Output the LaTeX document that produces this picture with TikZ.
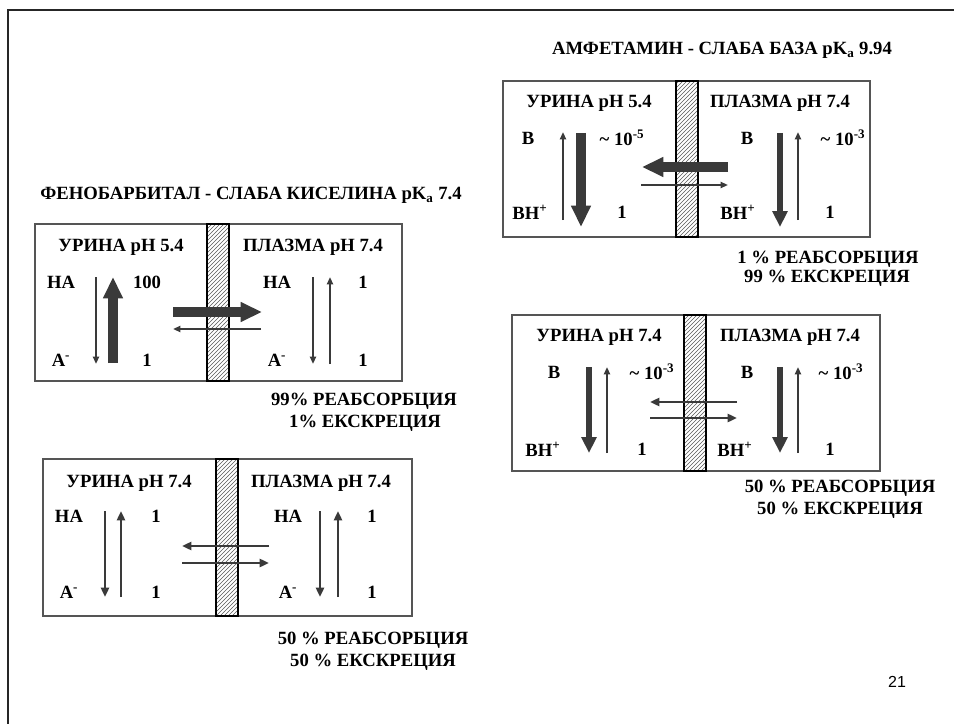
\documentclass[tikz,border=0pt]{standalone}
\usepackage{fontspec}
\setmainfont{Liberation Serif}
\newfontfamily\pagefont{Liberation Sans}
\usepackage{tikz}
\usetikzlibrary{arrows.meta,patterns}
\definecolor{ink}{HTML}{3A3A3A}
\definecolor{rim}{HTML}{555555}

\begin{document}
\begin{tikzpicture}[
x=0.75pt, y=-0.75pt,
lbl/.style={font=\fontsize{14}{16}\selectfont\bfseries, inner sep=0pt},
panel/.style={draw=rim, line width=1.1pt},
wall/.style={draw=black, line width=0.9pt, pattern=north east lines, pattern color=black!65},
arrow/.style={-{Triangle[width=4.5pt,length=5.5pt]}, line width=1.4pt, draw=ink},
midarrow/.style={-{Triangle[width=6pt,length=7pt]}, line width=2.2pt, draw=ink},
medarrow/.style={-{Triangle[width=11pt,length=12pt]}, line width=5pt, draw=ink},
bigarrow/.style={-{Triangle[width=14pt,length=16pt]}, line width=7.5pt, draw=ink}
]
\useasboundingbox (0,0) rectangle (954,724);
% slide frame
\draw[line width=1.8pt, black!85] (8,724) -- (8,10) -- (954,10);

% phenobarbital, urine pH 5.4
\draw[panel] (35,224) rectangle (402,381);
\draw[wall] (207,224) rectangle (229,381);
\node[lbl] (t1) at (251,195) {ФЕНОБАРБИТАЛ - СЛАБА КИСЕЛИНА pK\textsubscript{a} 7.4};
\node[lbl] (u1) at (121,247) {УРИНА pH 5.4};
\node[lbl] (p1) at (313,247) {ПЛАЗМА pH 7.4};
\node[lbl] (ha1u) at (61,282) {HA};
\node[lbl] (v1u) at (147,282) {100};
\node[lbl] (a1u) at (61,360) {A\textsuperscript{-}};
\node[lbl] (w1u) at (147,360) {1};
\node[lbl] (ha1p) at (277,282) {HA};
\node[lbl] (v1p) at (363,282) {1};
\node[lbl] (a1p) at (277,360) {A\textsuperscript{-}};
\node[lbl] (w1p) at (363,360) {1};
\node[lbl] (r1) at (364,401) {99\% РЕАБСОРБЦИЯ};
\node[lbl] (e1) at (365,423) {1\% ЕКСКРЕЦИЯ};
\coordinate (k1a) at (96,277); \coordinate (k1b) at (96,364);
\coordinate (k2a) at (113,363); \coordinate (k2b) at (113,277);
\coordinate (k3a) at (313,277); \coordinate (k3b) at (313,364);
\coordinate (k4a) at (330,364); \coordinate (k4b) at (330,277);
\coordinate (k5a) at (173,312); \coordinate (k5b) at (262,312);
\coordinate (k6a) at (261,329); \coordinate (k6b) at (173,329);
\draw[arrow] (k1a) -- (k1b);
\draw[bigarrow] (k2a) -- (k2b);
\draw[arrow] (k3a) -- (k3b);
\draw[arrow] (k4a) -- (k4b);
\draw[bigarrow] (k5a) -- (k5b);
\draw[arrow] (k6a) -- (k6b);

% phenobarbital, urine pH 7.4
\draw[panel] (43,459) rectangle (412,616);
\draw[wall] (216,459) rectangle (238,616);
\node[lbl] (u2) at (129,483) {УРИНА pH 7.4};
\node[lbl] (p2) at (321,483) {ПЛАЗМА pH 7.4};
\node[lbl] (ha2u) at (69,516) {HA};
\node[lbl] (v2u) at (156,516) {1};
\node[lbl] (a2u) at (69,592) {A\textsuperscript{-}};
\node[lbl] (w2u) at (156,592) {1};
\node[lbl] (ha2p) at (288,516) {HA};
\node[lbl] (v2p) at (372,516) {1};
\node[lbl] (a2p) at (288,592) {A\textsuperscript{-}};
\node[lbl] (w2p) at (372,592) {1};
\node[lbl] (r2) at (373,640) {50 \% РЕАБСОРБЦИЯ};
\node[lbl] (e2) at (373,662) {50 \% ЕКСКРЕЦИЯ};
\coordinate (m1a) at (105,511); \coordinate (m1b) at (105,597);
\coordinate (m2a) at (121,597); \coordinate (m2b) at (121,511);
\coordinate (m3a) at (320,511); \coordinate (m3b) at (320,597);
\coordinate (m4a) at (338,597); \coordinate (m4b) at (338,511);
\coordinate (m5a) at (269,546); \coordinate (m5b) at (182,546);
\coordinate (m6a) at (182,563); \coordinate (m6b) at (269,563);
\draw[midarrow] (m1a) -- (m1b);
\draw[midarrow] (m2a) -- (m2b);
\draw[midarrow] (m3a) -- (m3b);
\draw[midarrow] (m4a) -- (m4b);
\draw[midarrow] (m5a) -- (m5b);
\draw[midarrow] (m6a) -- (m6b);

% amphetamine, urine pH 5.4
\draw[panel] (503,81) rectangle (870,237);
\draw[wall] (676,81) rectangle (698,237);
\node[lbl] (t3) at (722,50) {АМФЕТАМИН - СЛАБА БАЗА pK\textsubscript{a} 9.94};
\node[lbl] (u3) at (589,103) {УРИНА pH 5.4};
\node[lbl] (p3) at (780,103) {ПЛАЗМА pH 7.4};
\node[lbl] (b3u) at (528,138) {B};
\node[lbl] (v3u) at (622,138) {\textasciitilde{} 10\textsuperscript{-5}};
\node[lbl] (bh3u) at (530,212) {BH\textsuperscript{+}};
\node[lbl] (w3u) at (622,212) {1};
\node[lbl] (b3p) at (747,138) {B};
\node[lbl] (v3p) at (843,138) {\textasciitilde{} 10\textsuperscript{-3}};
\node[lbl] (bh3p) at (738,212) {BH\textsuperscript{+}};
\node[lbl] (w3p) at (830,212) {1};
\node[lbl] (r3) at (828,259) {1 \% РЕАБСОРБЦИЯ};
\node[lbl] (e3) at (827,278) {99 \% ЕКСКРЕЦИЯ};
\coordinate (n1a) at (563,220); \coordinate (n1b) at (563,132);
\coordinate (n2a) at (581,133); \coordinate (n2b) at (581,227);
\coordinate (n3a) at (780,133); \coordinate (n3b) at (780,227);
\coordinate (n4a) at (798,220); \coordinate (n4b) at (798,132);
\coordinate (n5a) at (728,167); \coordinate (n5b) at (642,167);
\coordinate (n6a) at (641,185); \coordinate (n6b) at (728,185);
\draw[arrow] (n1a) -- (n1b);
\draw[bigarrow] (n2a) -- (n2b);
\draw[medarrow] (n3a) -- (n3b);
\draw[arrow] (n4a) -- (n4b);
\draw[bigarrow] (n5a) -- (n5b);
\draw[arrow] (n6a) -- (n6b);

% amphetamine, urine pH 7.4
\draw[panel] (512,315) rectangle (880,471);
\draw[wall] (684,315) rectangle (706,471);
\node[lbl] (u4) at (599,337) {УРИНА pH 7.4};
\node[lbl] (p4) at (790,337) {ПЛАЗМА pH 7.4};
\node[lbl] (b4u) at (554,372) {B};
\node[lbl] (v4u) at (652,372) {\textasciitilde{} 10\textsuperscript{-3}};
\node[lbl] (bh4u) at (543,449) {BH\textsuperscript{+}};
\node[lbl] (w4u) at (642,449) {1};
\node[lbl] (b4p) at (747,372) {B};
\node[lbl] (v4p) at (841,372) {\textasciitilde{} 10\textsuperscript{-3}};
\node[lbl] (bh4p) at (735,449) {BH\textsuperscript{+}};
\node[lbl] (w4p) at (830,449) {1};
\node[lbl] (r4) at (840,488) {50 \% РЕАБСОРБЦИЯ};
\node[lbl] (e4) at (840,510) {50 \% ЕКСКРЕЦИЯ};
\coordinate (q1a) at (589,367); \coordinate (q1b) at (589,453);
\coordinate (q2a) at (607,453); \coordinate (q2b) at (607,367);
\coordinate (q3a) at (780,367); \coordinate (q3b) at (780,453);
\coordinate (q4a) at (798,453); \coordinate (q4b) at (798,367);
\coordinate (q5a) at (737,402); \coordinate (q5b) at (650,402);
\coordinate (q6a) at (650,418); \coordinate (q6b) at (737,418);
\draw[medarrow] (q1a) -- (q1b);
\draw[arrow] (q2a) -- (q2b);
\draw[medarrow] (q3a) -- (q3b);
\draw[arrow] (q4a) -- (q4b);
\draw[midarrow] (q5a) -- (q5b);
\draw[midarrow] (q6a) -- (q6b);

\node[font=\pagefont\fontsize{12}{14}\selectfont, inner sep=0pt] (pg) at (897,682) {21};
\end{tikzpicture}
\end{document}
